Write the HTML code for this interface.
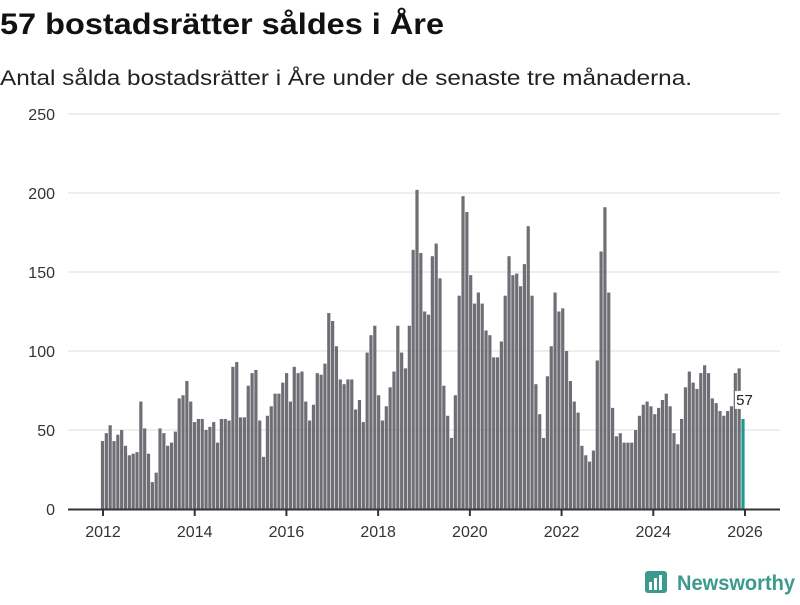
<!DOCTYPE html>
<html><head><meta charset="utf-8"><style>
body{margin:0;width:800px;height:600px;background:#fff;font-family:"Liberation Sans","DejaVu Sans",sans-serif;overflow:hidden}
</style></head><body>
<svg width="800" height="600">
<text x="0" y="34" font-size="30" font-weight="bold" fill="#111" textLength="444" lengthAdjust="spacingAndGlyphs">57 bostadsrätter såldes i Åre</text>
<text x="0" y="85" font-size="21" fill="#222" textLength="692" lengthAdjust="spacingAndGlyphs">Antal sålda bostadsrätter i Åre under de senaste tre månaderna.</text>
<g id="grid"></g><g id="bars"></g><g id="xax"></g>
<g>
<rect x="645" y="571" width="22" height="22" rx="3" fill="#3a9a8e"/>
<rect x="649" y="582" width="3" height="8" fill="#fff"/><rect x="654" y="578" width="3" height="12" fill="#fff"/><rect x="659" y="575" width="3" height="15" fill="#fff"/>
<text x="677" y="590" font-size="21" font-weight="bold" fill="#3a9a8e" textLength="118" lengthAdjust="spacingAndGlyphs">Newsworthy</text>
</g>
</svg>
<script>
const years=["2012","2014","2016","2018","2020","2022","2024","2026"];
const yTicks=[0,50,100,150,200,250];
const values=[43,48,53,43,47,50,40,34,35,36,68,51,
35,17,23,51,48,40,42,49,70,72,81,68,
55,57,57,50,52,55,42,57,57,56,90,93,
58,58,78,86,88,56,33,59,65,73,73,80,
86,68,90,86,87,68,56,66,86,85,92,124,
119,103,82,79,82,82,63,69,55,99,110,116,
72,56,65,77,87,116,99,89,116,164,202,162,
125,123,160,168,146,78,59,45,72,135,198,188,
148,130,137,130,113,110,96,96,106,135,160,148,
149,141,155,179,135,79,60,45,84,103,137,125,
127,100,81,68,61,40,34,30,37,94,163,191,
137,64,46,48,42,42,42,50,59,66,68,65,
60,64,69,73,65,48,41,57,77,87,80,76,
86,91,86,70,67,62,59,62,65,86,89,57];
const NS="http://www.w3.org/2000/svg";
const y=v=>509-v*1.58;
const x=i=>102.5+i*(640.5/167);
function mk(t,a,p){const e=document.createElementNS(NS,t);for(const k in a)e.setAttribute(k,a[k]);p.appendChild(e);return e;}
const g=document.getElementById('grid');
yTicks.forEach(v=>{
 if(v>0){const l=mk('line',{x1:68,x2:780,y1:y(v),y2:y(v),stroke:'#ddd','stroke-width':1},g);
 
 }
 const t=mk('text',{x:55,y:y(v)+6,'text-anchor':'end','font-size':16,fill:'#333'},g);
 t.textContent=v;
 
 
});
const b=document.getElementById('bars');
values.forEach((v,i)=>{
 const last=i===values.length-1;
 const r=mk('rect',{x:x(i)-1.6,y:y(v),width:3.2,height:v*1.58,fill:last?'#1f9a93':'#6f6e75'},b);
 
 
});
const li=values.length-1;
const lb=mk('rect',{x:x(li)-8,y:y(values[li])-28,width:19,height:18,fill:'#fff'},b);


const lt=mk('text',{x:x(li)+1.5,y:y(values[li])-14,'text-anchor':'middle','font-size':15,fill:'#222'},b);
lt.textContent=values[li];


const xa=document.getElementById('xax');
const al=mk('line',{x1:68,x2:780,y1:509.5,y2:509.5,stroke:'#333','stroke-width':2},xa);


years.forEach((yr,k)=>{
 const px=103+k*2*(642/14);
 const tk=mk('line',{x1:px,x2:px,y1:509,y2:516,stroke:'#333','stroke-width':2},xa);
 
 
 const t=mk('text',{x:px,y:537,'text-anchor':'middle','font-size':16,fill:'#333'},xa);
 t.textContent=yr;
 
 
});
</script>
</body></html>
